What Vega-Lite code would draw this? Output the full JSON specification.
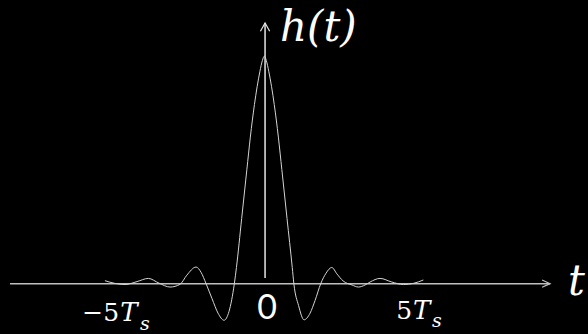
{
  "$schema": "https://vega.github.io/schema/vega-lite/v6.json",
  "width": 588,
  "height": 334,
  "autosize": {"type": "fit", "contains": "padding"},
  "padding": 0,
  "background": "#000000",
  "config": {"view": {"stroke": null}},
  "datasets": {
    "pulse": [
      {"t": -5.403, "h": 0.013}, {"t": -5.064, "h": 0.001}, {"t": -4.722, "h": -0.004},
      {"t": -4.315, "h": 0.009}, {"t": -3.932, "h": 0.023}, {"t": -3.569, "h": 0.002},
      {"t": -3.197, "h": -0.015}, {"t": -2.858, "h": -0.003}, {"t": -2.628, "h": 0.037},
      {"t": -2.315, "h": 0.073}, {"t": -2.146, "h": 0.05}, {"t": -1.976, "h": 0},
      {"t": -1.773, "h": -0.066}, {"t": -1.569, "h": -0.13}, {"t": -1.366, "h": -0.161},
      {"t": -1.197, "h": -0.122}, {"t": -1.017, "h": 0}, {"t": -0.946, "h": 0.071},
      {"t": -0.769, "h": 0.286}, {"t": -0.593, "h": 0.501}, {"t": -0.475, "h": 0.644},
      {"t": -0.336, "h": 0.787}, {"t": -0.153, "h": 0.931}, {"t": -0.068, "h": 0.98},
      {"t": 0, "h": 1},
      {"t": 0.068, "h": 0.98}, {"t": 0.153, "h": 0.931}, {"t": 0.336, "h": 0.787},
      {"t": 0.475, "h": 0.644}, {"t": 0.593, "h": 0.501}, {"t": 0.769, "h": 0.286},
      {"t": 0.946, "h": 0.071}, {"t": 1.0, "h": 0}, {"t": 1.159, "h": -0.096},
      {"t": 1.346, "h": -0.159}, {"t": 1.549, "h": -0.13}, {"t": 1.719, "h": -0.074},
      {"t": 1.912, "h": 0}, {"t": 2.092, "h": 0.046}, {"t": 2.285, "h": 0.071},
      {"t": 2.464, "h": 0.042}, {"t": 2.668, "h": 0.012}, {"t": 2.973, "h": -0.006},
      {"t": 3.186, "h": -0.015}, {"t": 3.414, "h": -0.006}, {"t": 3.583, "h": 0.007},
      {"t": 3.922, "h": 0.023}, {"t": 4.32, "h": 0.007}, {"t": 4.712, "h": -0.004},
      {"t": 5.05, "h": 0.001}, {"t": 5.39, "h": 0.016}
    ],
    "labels": [
      {"role": "ylabel", "text": "h(t)", "t": 0.532, "h": 1.067},
      {"role": "xlabel", "text": "t", "t": 10.295, "h": -0.052},
      {"role": "zero", "text": "0", "t": 0.092, "h": -0.156},
      {"role": "num", "text": "−5", "t": -4.925, "h": -0.166},
      {"role": "num", "text": "5", "t": 5.007, "h": -0.156},
      {"role": "sym", "text": "T", "t": -4.888, "h": -0.166},
      {"role": "sym", "text": "T", "t": 5.041, "h": -0.156},
      {"role": "sub", "text": "s", "t": -4.214, "h": -0.202},
      {"role": "sub", "text": "s", "t": 5.685, "h": -0.192}
    ]
  },
  "encoding": {
    "x": {"field": "t", "type": "quantitative", "axis": null,
          "scale": {"domain": [-8.96, 10.97], "nice": false, "zero": false}},
    "y": {"field": "h", "type": "quantitative", "axis": null,
          "scale": {"domain": [-0.1906, 1.2466], "nice": false, "zero": false}}
  },
  "layer": [
    {
      "data": {"values": [{"t": -8.62, "t2": 9.685, "h": 0}]},
      "mark": {"type": "rule", "color": "#bfbfbf", "strokeWidth": 1.5},
      "encoding": {"x2": {"field": "t2"}}
    },
    {
      "data": {"values": [{"t": 0.024, "h": 0.0245, "h2": 1.146}]},
      "mark": {"type": "rule", "color": "#e6e6e6", "strokeWidth": 1.5},
      "encoding": {"y2": {"field": "h2"}}
    },
    {
      "data": {"values": [{"t": 9.685, "h": 0}]},
      "mark": {"type": "point", "shape": "M-1,-0.45L0,0L-1,0.45", "size": 256,
               "filled": false, "stroke": "#bfbfbf", "strokeWidth": 1.2, "opacity": 1}
    },
    {
      "data": {"values": [{"t": 0.024, "h": 1.146}]},
      "mark": {"type": "point", "shape": "M-0.55,1L0,0L0.55,1", "size": 282,
               "filled": false, "stroke": "#e6e6e6", "strokeWidth": 1.2, "opacity": 1}
    },
    {
      "data": {"name": "pulse"},
      "mark": {"type": "line", "color": "#d4d4d4", "strokeWidth": 1, "interpolate": "monotone"},
      "encoding": {"order": {"field": "t", "type": "quantitative"}}
    },
    {
      "data": {"name": "labels"},
      "transform": [{"filter": "datum.role === 'ylabel' || datum.role === 'xlabel'"}],
      "mark": {"type": "text", "align": "left", "baseline": "alphabetic", "font": "DejaVu Serif",
               "fontStyle": "italic", "fontSize": 42, "color": "#ffffff"},
      "encoding": {"text": {"field": "text"}}
    },
    {
      "data": {"name": "labels"},
      "transform": [{"filter": "datum.role === 'zero'"}],
      "mark": {"type": "text", "align": "center", "baseline": "alphabetic", "font": "Lato",
               "fontSize": 34, "color": "#ffffff"},
      "encoding": {"text": {"field": "text"}}
    },
    {
      "data": {"name": "labels"},
      "transform": [{"filter": "datum.role === 'num'"}],
      "mark": {"type": "text", "align": "right", "baseline": "alphabetic", "font": "DejaVu Serif",
               "fontSize": 25, "color": "#ffffff"},
      "encoding": {"text": {"field": "text"}}
    },
    {
      "data": {"name": "labels"},
      "transform": [{"filter": "datum.role === 'sym'"}],
      "mark": {"type": "text", "align": "left", "baseline": "alphabetic", "font": "DejaVu Serif",
               "fontStyle": "italic", "fontSize": 26, "color": "#ffffff"},
      "encoding": {"text": {"field": "text"}}
    },
    {
      "data": {"name": "labels"},
      "transform": [{"filter": "datum.role === 'sub'"}],
      "mark": {"type": "text", "align": "left", "baseline": "alphabetic", "font": "DejaVu Serif",
               "fontStyle": "italic", "fontSize": 19, "color": "#ffffff"},
      "encoding": {"text": {"field": "text"}}
    }
  ]
}
